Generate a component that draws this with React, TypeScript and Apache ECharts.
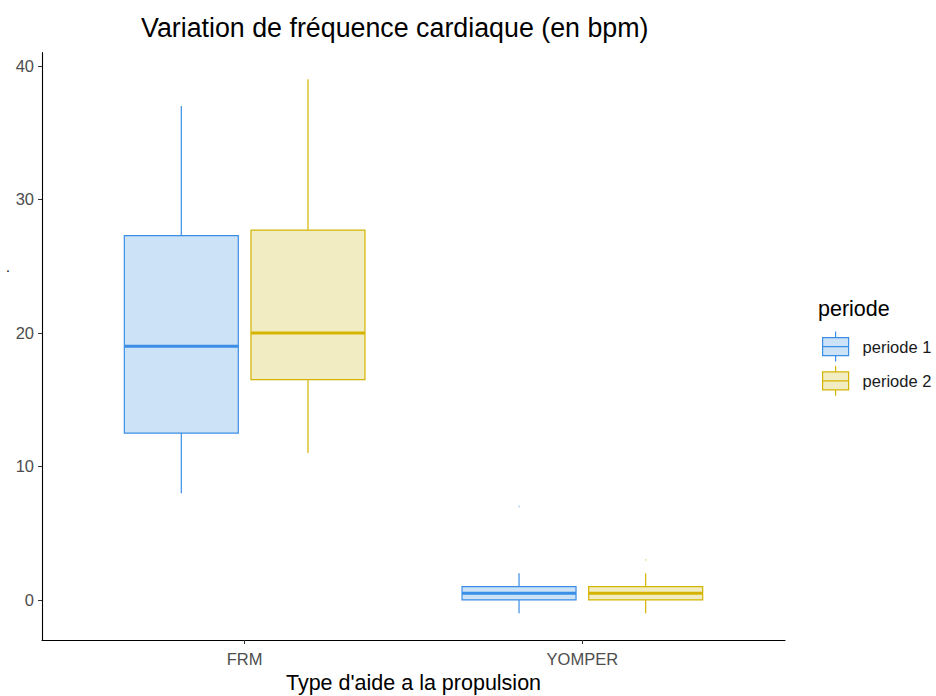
import React, { useEffect, useRef } from "react";
import * as echarts from "echarts";

const categories = ["FRM", "YOMPER"];
const seriesNames = ["periode 1", "periode 2"];
// [min, q1, median, q3, max] per category
const periode1Stats = [
  [8, 12.5, 19, 27.3, 37],
  [-1, 0, 0.5, 1, 2],
];
const periode2Stats = [
  [11, 16.5, 20, 27.7, 39],
  [-1, 0, 0.5, 1, 2],
];
// [categoryIndex, value]
const periode1Outliers = [[1, 7]];
const periode2Outliers = [[1, 3]];
const yTicks = [0, 10, 20, 30, 40];

const strokeColors = ["#3A8EE6", "#D4B400"];
const fillColors = ["#CCE2F7", "#F2ECC2"];

const dodge = 0.1875;
const halfW = 0.16875;

const iconPath =
  "path://M13 0 L13 6 M0 6 L26 6 L26 24 L0 24 Z M0 15 L26 15 M13 24 L13 30";

const FONT = "Liberation Sans";

export default function App() {
  const ref = useRef<HTMLDivElement>(null);
  useEffect(() => {
    document.body.style.margin = "0";
    const chart = echarts.init(ref.current!, null, { renderer: "svg" });
    const statsList = [periode1Stats, periode2Stats];
    const outList = [periode1Outliers, periode2Outliers];
    const boxSeries = statsList.map((stats, si) => ({
      type: "custom",
      name: seriesNames[si],
      encode: { x: 0, y: [1, 2, 3, 4, 5] },
      data: stats.map((s, ci) => [ci + 1 + (si === 0 ? -dodge : dodge), ...s]),
      itemStyle: { color: fillColors[si], borderColor: strokeColors[si] },
      renderItem: (params: any, api: any) => {
        const xc = api.value(0);
        const xl = api.coord([xc - halfW, 0])[0];
        const xr = api.coord([xc + halfW, 0])[0];
        const xm = api.coord([xc, 0])[0];
        const yMin = api.coord([xc, api.value(1)])[1];
        const yQ1 = api.coord([xc, api.value(2)])[1];
        const yMed = api.coord([xc, api.value(3)])[1];
        const yQ3 = api.coord([xc, api.value(4)])[1];
        const yMax = api.coord([xc, api.value(5)])[1];
        const stroke = strokeColors[si];
        return {
          type: "group",
          children: [
            { type: "line", shape: { x1: xm, y1: yMax, x2: xm, y2: yQ3 }, style: { stroke, lineWidth: 1.2 } },
            { type: "line", shape: { x1: xm, y1: yQ1, x2: xm, y2: yMin }, style: { stroke, lineWidth: 1.2 } },
            {
              type: "rect",
              shape: { x: xl, y: yQ3, width: xr - xl, height: yQ1 - yQ3 },
              style: { fill: fillColors[si], stroke, lineWidth: 1.2 },
            },
            { type: "line", shape: { x1: xl, y1: yMed, x2: xr, y2: yMed }, style: { stroke, lineWidth: 3 } },
          ],
        };
      },
    }));
    const outSeries = outList.map((o, si) => ({
      type: "scatter",
      name: seriesNames[si] + " outliers",
      data: o.map(([ci, v]) => [ci + 1 + (si === 0 ? -dodge : dodge), v]),
      symbolSize: 1.5,
      itemStyle: { color: strokeColors[si], opacity: 0.5 },
      silent: true,
    }));
    chart.setOption({
      animation: false,
      title: [
        {
          text: "Variation de fréquence cardiaque (en bpm)",
          left: 141,
          top: 14,
          padding: 0,
          textStyle: { fontFamily: FONT, fontSize: 26.8, fontWeight: "normal", color: "#000" },
        },
        {
          text: "periode",
          left: 818,
          top: 298,
          padding: 0,
          textStyle: { fontFamily: FONT, fontSize: 21.5, fontWeight: "normal", color: "#000" },
        },
      ],
      graphic: [
        { type: "text", left: 6, top: 260, style: { text: ".", fontFamily: FONT, fontSize: 14, fill: "#000" } },
      ],
      legend: {
        orient: "vertical",
        left: 822,
        top: 331,
        padding: 0,
        itemWidth: 26,
        itemHeight: 30,
        itemGap: 3,
        data: seriesNames.map((n, i) => ({
          name: n,
          icon: iconPath,
          itemStyle: { color: fillColors[i], borderColor: strokeColors[i], borderWidth: 1.2 },
        })),
        textStyle: { fontFamily: FONT, fontSize: 16.5, color: "#1a1a1a", padding: [0, 0, 0, 9] },
      },
      grid: { left: 42, right: 151, top: 52.65, bottom: 56, outerBoundsMode: "none", containLabel: false },
      xAxis: {
        type: "value",
        min: 0.4,
        max: 2.6,
        name: "Type d'aide a la propulsion",
        nameLocation: "middle",
        nameGap: 32,
        nameTextStyle: { fontFamily: FONT, fontSize: 21.5, color: "#000" },
        splitLine: { show: false },
        axisLine: { onZero: false, lineStyle: { color: "#000", width: 1.1 } },
        axisTick: { show: true, length: 4, customValues: [1, 2], lineStyle: { color: "#333" } },
        axisLabel: {
          customValues: [1, 2],
          formatter: (v: number) => categories[Math.round(v) - 1] ?? "",
          fontFamily: FONT,
          fontSize: 16.5,
          color: "#4D4D4D",
          margin: 10,
        },
      },
      yAxis: {
        type: "value",
        min: -3,
        max: 41,
        splitLine: { show: false },
        axisLine: { show: true, lineStyle: { color: "#000", width: 1.1 } },
        axisTick: { show: true, length: 4, customValues: yTicks, lineStyle: { color: "#333" } },
        axisLabel: {
          customValues: yTicks,
          fontFamily: FONT,
          fontSize: 16.5,
          color: "#4D4D4D",
          margin: 8,
        },
      },
      series: [...boxSeries, ...outSeries],
    });
    return () => chart.dispose();
  }, []);
  return <div ref={ref} style={{ position: "absolute", left: 0, top: 0, width: 936, height: 696 }} />;
}
